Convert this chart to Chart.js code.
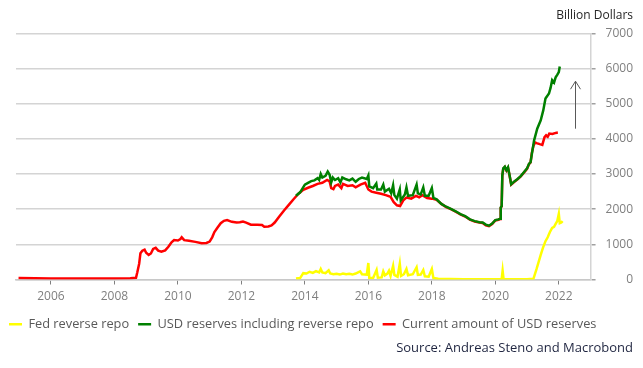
<!DOCTYPE html>
<html>
<head>
<meta charset="utf-8">
<script src="https://cdn.jsdelivr.net/npm/chart.js@4.4.1/dist/chart.umd.min.js"></script>
<style>
    body { margin: 0; background: #fff; }
    #wrap { width: 643px; height: 368px; }
</style>
</head>
<body>
<div id="wrap"><canvas id="chart"></canvas></div>
<script>
// ---- Data (decimal years, billion dollars) ----
const reserveYears = [
    2004.98, 2005.5, 2006.0, 2006.5, 2007.0, 2007.5, 2008.0, 2008.5, 2008.68, 2008.72,
    2008.78, 2008.82, 2008.88, 2008.95, 2009.0, 2009.08, 2009.15, 2009.22, 2009.3, 2009.38,
    2009.48, 2009.6, 2009.7, 2009.8, 2009.88, 2010.0, 2010.08, 2010.12, 2010.2, 2010.35,
    2010.55, 2010.75, 2010.9, 2011.0, 2011.08, 2011.15, 2011.25, 2011.35, 2011.45, 2011.55,
    2011.7, 2011.85, 2011.95, 2012.05, 2012.15, 2012.3, 2012.5, 2012.65, 2012.72, 2012.85,
    2012.95, 2013.05, 2013.2, 2013.35, 2013.5, 2013.65, 2013.8, 2013.95, 2014.1, 2014.25,
    2014.4, 2014.55, 2014.7, 2014.78, 2014.83, 2014.9, 2014.95, 2015.05, 2015.15, 2015.2,
    2015.35, 2015.5, 2015.6, 2015.75, 2015.9, 2016.0, 2016.1, 2016.25, 2016.4, 2016.55,
    2016.7, 2016.8, 2016.9, 2017.0, 2017.1, 2017.2, 2017.35, 2017.5, 2017.6, 2017.7,
    2017.85, 2018.0, 2018.15, 2018.3, 2018.45, 2018.6, 2018.75, 2018.9, 2019.05, 2019.2,
    2019.35, 2019.5, 2019.6, 2019.7, 2019.8, 2019.9, 2020.0, 2020.1, 2020.15, 2020.17,
    2020.2, 2020.22, 2020.25, 2020.3, 2020.35, 2020.4, 2020.45, 2020.5, 2020.6, 2020.7,
    2020.8, 2020.9, 2021.0, 2021.06, 2021.11, 2021.15, 2021.2, 2021.25, 2021.3, 2021.4,
    2021.48, 2021.55, 2021.6, 2021.65, 2021.7, 2021.8, 2021.9, 2021.97
];
const reserveValues = [
    40, 35, 30, 30, 25, 30, 30, 35, 50, 200,
    450, 750, 820, 850, 760, 700, 740, 870, 900, 820,
    790, 830, 930, 1060, 1120, 1110, 1150, 1200, 1120, 1100,
    1070, 1030, 1040, 1080, 1200, 1350, 1480, 1600, 1670, 1690,
    1640, 1620, 1630, 1650, 1620, 1560, 1560, 1550, 1500, 1510,
    1540, 1620, 1800, 1970, 2130, 2290, 2440, 2550, 2610, 2660,
    2720, 2750, 2830, 2790, 2600, 2570, 2660, 2700, 2600, 2720,
    2660, 2680, 2620, 2700, 2750, 2560, 2500, 2470, 2440, 2400,
    2350, 2200, 2110, 2090, 2250, 2330, 2300, 2380, 2340, 2400,
    2320, 2300, 2270, 2150, 2060, 2000, 1930, 1850, 1790, 1700,
    1650, 1620, 1610, 1540, 1520, 1580, 1680, 1700, 1720, 2040,
    2080, 2950, 3150, 3200, 3100, 3180, 2950, 2700, 2780, 2850,
    2930, 3040, 3150, 3280, 3330, 3600, 3800, 3900, 3880, 3850,
    3830, 4050, 4100, 4060, 4150, 4140, 4170, 4180
];

const totalYears = [
    2013.72, 2013.85, 2014.0, 2014.1, 2014.2, 2014.3, 2014.4, 2014.45, 2014.5, 2014.55,
    2014.65, 2014.72, 2014.78, 2014.83, 2014.88, 2014.95, 2015.05, 2015.12, 2015.18, 2015.3,
    2015.4, 2015.5, 2015.6, 2015.7, 2015.8, 2015.95, 2016.0, 2016.03, 2016.15, 2016.25,
    2016.28, 2016.4, 2016.47, 2016.52, 2016.65, 2016.72, 2016.78, 2016.82, 2016.9, 2016.99,
    2017.02, 2017.15, 2017.2, 2017.25, 2017.4, 2017.52, 2017.56, 2017.65, 2017.73, 2017.78,
    2017.9, 2018.0, 2018.05, 2018.15, 2018.3, 2018.45, 2018.6, 2018.75, 2018.9, 2019.05,
    2019.2, 2019.35, 2019.5, 2019.6, 2019.7, 2019.8, 2019.9, 2020.0, 2020.1, 2020.15,
    2020.17, 2020.2, 2020.22, 2020.25, 2020.3, 2020.35, 2020.4, 2020.45, 2020.5, 2020.6,
    2020.7, 2020.8, 2020.9, 2021.0, 2021.06, 2021.11, 2021.16, 2021.22, 2021.32, 2021.43,
    2021.51, 2021.58, 2021.69, 2021.74, 2021.79, 2021.85, 2021.9, 2021.95, 2022.0, 2022.03
];
const totalValues = [
    2380, 2480, 2700, 2750, 2800, 2820, 2880, 2830, 3000, 2900,
    2950, 3070, 2980, 2760, 2900, 2830, 2880, 2760, 2900, 2850,
    2820, 2870, 2780, 2860, 2900, 2860, 2960, 2650, 2600, 2730,
    2560, 2560, 2700, 2500, 2580, 2450, 2680, 2400, 2300, 2560,
    2250, 2420, 2620, 2380, 2400, 2700, 2450, 2420, 2620, 2380,
    2380, 2600, 2320, 2280, 2150, 2070, 2010, 1940, 1860, 1800,
    1710, 1660, 1630, 1620, 1560, 1530, 1590, 1690, 1710, 1730,
    2050, 2090, 2960, 3160, 3210, 3110, 3190, 2960, 2710, 2790,
    2860, 2940, 3050, 3160, 3290, 3340, 3620, 3950, 4290, 4530,
    4810, 5150, 5290, 5450, 5670, 5600, 5750, 5820, 5900, 6060
];

const repoYears = [
    2013.72, 2013.85, 2013.95, 2014.05, 2014.15, 2014.25, 2014.35, 2014.45, 2014.5, 2014.55,
    2014.65, 2014.75, 2014.8, 2014.9, 2015.0, 2015.1, 2015.2, 2015.3, 2015.4, 2015.5,
    2015.6, 2015.74, 2015.8, 2015.95, 2016.0, 2016.03, 2016.15, 2016.26, 2016.3, 2016.42,
    2016.47, 2016.52, 2016.6, 2016.65, 2016.7, 2016.78, 2016.82, 2016.92, 2016.99, 2017.03,
    2017.12, 2017.2, 2017.25, 2017.4, 2017.52, 2017.56, 2017.65, 2017.73, 2017.78, 2017.9,
    2018.0, 2018.05, 2018.2, 2018.6, 2019.0, 2019.5, 2020.0, 2020.2, 2020.23, 2020.26,
    2020.6, 2021.0, 2021.2, 2021.3, 2021.43, 2021.5, 2021.58, 2021.65, 2021.72, 2021.79,
    2021.85, 2021.9, 2021.95, 2022.0, 2022.03, 2022.08, 2022.12
];
const repoValues = [
    30, 40, 180, 170, 220, 190, 240, 200, 300, 200,
    180, 260, 170, 150, 160, 140, 170, 150, 160, 140,
    170, 230, 150, 140, 470, 40, 40, 270, 50, 60,
    230, 120, 170, 250, 100, 390, 130, 80, 450, 100,
    150, 300, 120, 150, 350, 130, 140, 270, 90, 80,
    300, 40, 20, 15, 10, 10, 10, 10, 250, 10,
    5, 5, 20, 300, 700, 900, 1090, 1200, 1350, 1470,
    1500, 1580, 1660, 1870, 1600, 1620, 1660
];

const yearTicks = [2006, 2008, 2010, 2012, 2014, 2016, 2018, 2020, 2022];

// Pil ved 2022 (fra/til i milliarder)
const arrowYear = 2022.5;
const arrowFrom = 4290;
const arrowTo = 5640;

const toPoints = (xs, ys) => xs.map((x, i) => ({ x: x, y: ys[i] }));

const arrowPlugin = {
    id: 'arrow',
    afterDatasetsDraw(chart) {
        const { ctx, scales } = chart;
        const x = Math.round(scales.x.getPixelForValue(arrowYear)) + 0.5;
        const y1 = scales.y.getPixelForValue(arrowFrom);
        const y2 = scales.y.getPixelForValue(arrowTo);
        ctx.save();
        ctx.strokeStyle = '#595959';
        ctx.lineWidth = 1;
        ctx.beginPath();
        ctx.moveTo(x, y1);
        ctx.lineTo(x, y2);
        ctx.moveTo(x - 5, y2 + 8);
        ctx.lineTo(x, y2);
        ctx.lineTo(x + 5, y2 + 8);
        ctx.stroke();
        ctx.restore();
    }
};

const font = "'Open Sans', 'Noto Sans', sans-serif";

new Chart(document.getElementById('chart'), {
    type: 'line',
    data: {
        datasets: [
            {
                label: 'Fed reverse repo',
                data: toPoints(repoYears, repoValues),
                borderColor: '#ffff00',
                backgroundColor: '#ffff00',
                borderWidth: 2.5
            },
            {
                label: 'USD reserves including reverse repo',
                data: toPoints(totalYears, totalValues),
                borderColor: '#008000',
                backgroundColor: '#008000',
                borderWidth: 2.5
            },
            {
                label: 'Current amount of USD reserves',
                data: toPoints(reserveYears, reserveValues),
                borderColor: '#ff0000',
                backgroundColor: '#ff0000',
                borderWidth: 2.5
            }
        ]
    },
    options: {
        responsive: true,
        maintainAspectRatio: false,
        animation: false,
        elements: { point: { radius: 0 }, line: { tension: 0 } },
        layout: { padding: { left: 0, right: 10, top: 4, bottom: 5 } },
        plugins: {
            title: {
                display: true,
                text: 'Billion Dollars',
                align: 'end',
                color: '#262626',
                font: { family: font, size: 12, weight: 'normal' },
                padding: { top: 4, bottom: 11 }
            },
            subtitle: {
                display: true,
                text: 'Source: Andreas Steno and Macrobond',
                position: 'bottom',
                align: 'end',
                color: '#1f2540',
                font: { family: font, size: 13, lineHeight: 1.1 },
                padding: { top: 0, bottom: 8 }
            },
            legend: {
                position: 'bottom',
                align: 'start',
                labels: {
                    usePointStyle: true,
                    pointStyle: 'line',
                    pointStyleWidth: 13,
                    padding: 9,
                    color: '#595959',
                    font: { family: font, size: 12.8 }
                }
            },
            tooltip: { enabled: false }
        },
        scales: {
            x: {
                type: 'linear',
                min: 2004.9,
                max: 2023.0,
                afterBuildTicks: (scale) => {
                    scale.ticks = yearTicks.map(v => ({ value: v }));
                },
                ticks: {
                    color: '#7f7f7f',
                    padding: 5,
                    maxRotation: 0,
                    font: { family: font, size: 12 },
                    callback: (value) => String(value)
                },
                grid: {
                    drawOnChartArea: false,
                    tickLength: 5,
                    tickColor: '#808080'
                },
                border: { display: true, color: '#c8c8c8', width: 1.5 }
            },
            y: {
                position: 'right',
                min: 0,
                max: 7000,
                ticks: {
                    stepSize: 1000,
                    color: '#7f7f7f',
                    padding: 5,
                    crossAlign: 'far',
                    font: { family: font, size: 12 },
                    callback: (value) => String(value)
                },
                grid: {
                    color: '#d4d4d4',
                    lineWidth: 1.5,
                    tickLength: 5,
                    tickColor: '#a0a0a0'
                },
                border: { display: true, color: '#d4d4d4', width: 1.5 }
            },
            // tom venstre akse, holder plotområdet 16px fra kanten
            pad: {
                type: 'linear',
                position: 'left',
                display: true,
                grid: { display: false },
                ticks: { display: false },
                border: { display: false },
                afterFit: (scale) => { scale.width = 16; }
            }
        }
    },
    plugins: [arrowPlugin]
});
</script>
</body>
</html>
